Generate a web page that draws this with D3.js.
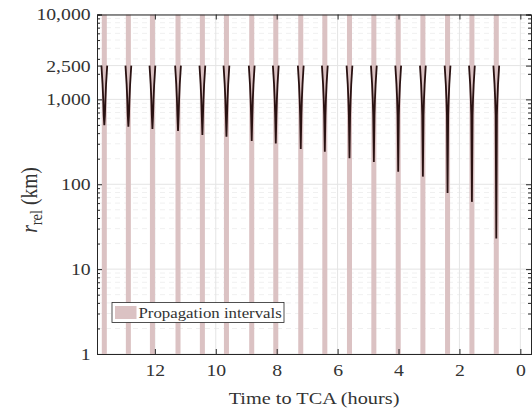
<!DOCTYPE html>
<html>
<head>
<meta charset="utf-8">
<script src="https://cdn.jsdelivr.net/npm/d3@7"></script>
<style>
  body { margin: 0; background: #fff; }
  svg { display: block; }
  svg text { font-family: "Liberation Serif", "Times New Roman", serif; }
</style>
</head>
<body>
<div id="chart"></div>
<script>
// centre of each propagation interval (hours before TCA)
const intervalHours = [13.66, 12.87, 12.08, 11.24, 10.44, 9.65, 8.82, 8.03, 7.21, 6.42, 5.61, 4.81, 4.01, 3.20, 2.39, 1.59, 0.79];
// closest relative distance reached in each interval (km)
const minRange = [498, 476, 447, 423, 380, 363, 323, 303, 260, 241, 202, 183, 140, 123, 79, 62, 23];
// interval length (hours)
const intervalLength = 0.165;
// arm of each V: distance (km) vs. offset from the interval centre (hours)
const armRange = [2500, 1500, 1000, 650];
const armOffset = [0.095, 0.057, 0.036, 0.02];

const xTicks = [12, 10, 8, 6, 4, 2, 0];
const yTicks = [1, 10, 100, 1000, 2500, 10000];
const yMinorTicks = [];
[1, 10, 100, 1000].forEach(dec => {
  for (let k = 2; k <= 9; k++) yMinorTicks.push(dec * k);
});

const width = 532;
const height = 412;
const plotLeft = 97, plotRight = 531, plotTop = 14.5, plotBottom = 354;
const stretch = 1.16;   // the reference is drawn slightly wide
const serif = '"Liberation Serif", "Times New Roman", serif';

const x = d3.scaleLinear().domain([13.9, -0.35]).range([plotLeft, plotRight]);
const y = d3.scaleLog().domain([1, 10000]).range([plotBottom, plotTop]);

const svg = d3.select("#chart")
  .append("svg")
    .attr("width", width)
    .attr("height", height);

// grid
svg.append("g")
  .selectAll("line")
  .data(yMinorTicks)
  .join("line")
    .attr("x1", plotLeft).attr("x2", plotRight)
    .attr("y1", d => y(d)).attr("y2", d => y(d))
    .attr("stroke", "#f0f0f0")
    .attr("stroke-dasharray", "5,4");

svg.append("g")
  .selectAll("line")
  .data(yTicks)
  .join("line")
    .attr("x1", plotLeft).attr("x2", plotRight)
    .attr("y1", d => y(d)).attr("y2", d => y(d))
    .attr("stroke", "#e4e4e4");

svg.append("g")
  .selectAll("line")
  .data(xTicks)
  .join("line")
    .attr("x1", d => x(d)).attr("x2", d => x(d))
    .attr("y1", plotTop).attr("y2", plotBottom)
    .attr("stroke", "#e4e4e4");

// propagation intervals
svg.append("g")
  .selectAll("rect")
  .data(intervalHours)
  .join("rect")
    .attr("x", d => x(d + intervalLength / 2))
    .attr("y", plotTop)
    .attr("width", d => x(d - intervalLength / 2) - x(d + intervalLength / 2))
    .attr("height", plotBottom - plotTop)
    .attr("fill", "#dbc2c3");

// relative distance during each interval
const line = d3.line()
  .x(d => x(d[0]))
  .y(d => y(d[1]));

function vPoints(t, rMin) {
  const pts = [];
  armRange.forEach((r, i) => { if (r > rMin * 1.15) pts.push([t + armOffset[i], r]); });
  pts.push([t, rMin]);
  armRange.slice().reverse().forEach((r, j) => {
    const i = armRange.length - 1 - j;
    if (r > rMin * 1.15) pts.push([t - armOffset[i], r]);
  });
  return pts;
}

svg.append("g")
  .selectAll("path")
  .data(intervalHours)
  .join("path")
    .attr("d", (d, i) => line(vPoints(d, minRange[i])))
    .attr("fill", "none")
    .attr("stroke", "#2a1212")
    .attr("stroke-width", 1.8)
    .attr("stroke-linejoin", "miter");

// axes
const axisColor = "#262626";
const textColor = "#333";

const xAxis = svg.append("g")
  .attr("transform", `translate(0,${plotBottom})`)
  .call(d3.axisBottom(x).tickValues(xTicks).tickSize(-5).tickPadding(10).tickFormat(d3.format("d")));
xAxis.selectAll("text").attr("transform", `scale(${stretch},1)`);

svg.append("g")
  .attr("transform", `translate(0,${plotTop})`)
  .call(d3.axisTop(x).tickValues(xTicks).tickSize(-5).tickFormat(""));

const yAxis = svg.append("g")
  .attr("transform", `translate(${plotLeft},0)`)
  .call(d3.axisLeft(y).tickValues(yTicks).tickSize(-5).tickPadding(5.5).tickFormat(d3.format(",")));
yAxis.selectAll("text").attr("transform", `scale(${stretch},1)`);

svg.append("g")
  .attr("transform", `translate(${plotLeft},0)`)
  .call(d3.axisLeft(y).tickValues(yMinorTicks).tickSize(-3).tickFormat(""));

svg.append("g")
  .attr("transform", `translate(${plotRight},0)`)
  .call(d3.axisRight(y).tickValues(yTicks).tickSize(-5).tickFormat(""));

svg.append("g")
  .attr("transform", `translate(${plotRight},0)`)
  .call(d3.axisRight(y).tickValues(yMinorTicks).tickSize(-3).tickFormat(""));

svg.selectAll(".domain").attr("stroke", axisColor);
svg.selectAll(".tick line").attr("stroke", axisColor);
svg.selectAll(".tick text")
  .attr("fill", textColor)
  .attr("font-size", 17)
  .style("font-family", serif);

// axis titles
svg.append("text")
  .attr("transform", `translate(${(plotLeft + plotRight) / 2},${404}) scale(${stretch},1)`)
  .attr("text-anchor", "middle")
  .attr("font-size", 17.5)
  .style("font-family", serif)
  .attr("fill", textColor)
  .text("Time to TCA (hours)");

const yTitle = svg.append("text")
  .attr("transform", `translate(37,200) scale(${stretch},1) rotate(-90)`)
  .attr("text-anchor", "middle")
  .attr("font-size", 19.5)
  .style("font-family", serif)
  .attr("fill", textColor);
yTitle.append("tspan").attr("font-style", "italic").text("r");
yTitle.append("tspan").attr("font-size", 14.5).attr("dy", 4).text("rel");
yTitle.append("tspan").attr("dy", -4).text(" (km)");

// legend
const legend = svg.append("g").attr("transform", "translate(112,302.5)");
legend.append("rect")
  .attr("width", 172).attr("height", 20)
  .attr("fill", "#fff")
  .attr("stroke", axisColor)
  .attr("stroke-width", 0.8);
legend.append("rect")
  .attr("x", 3).attr("y", 3.5)
  .attr("width", 21.5).attr("height", 13)
  .attr("fill", "#dbc2c3");
legend.append("text")
  .attr("transform", `translate(26.5,15) scale(${stretch},1)`)
  .attr("font-size", 14.5)
  .style("font-family", serif)
  .attr("fill", textColor)
  .text("Propagation intervals");
</script>
</body>
</html>
